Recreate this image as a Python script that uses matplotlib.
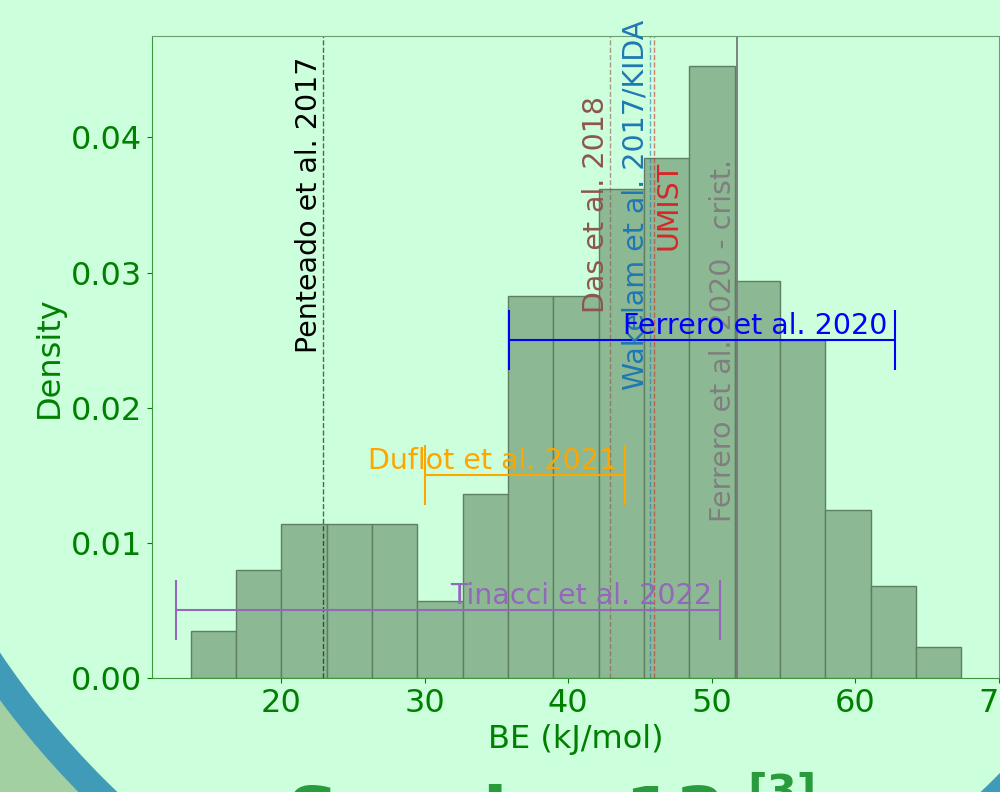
import numpy as np
import matplotlib.pyplot as plt
from matplotlib.patches import Annulus

# Histograma (densidade) das energias de ligação
bin_start = 13.70
bin_width = 3.159
density = [0.0035, 0.0080, 0.0114, 0.0114, 0.0114, 0.0057, 0.0136, 0.0283, 0.0283,
           0.0362, 0.0385, 0.0453, 0.0294, 0.0250, 0.0124, 0.0068, 0.0023]

# Valores de referência (linhas verticais)
ref_names = ['Penteado et al. 2017', 'Das et al. 2018', 'Wakelam et al. 2017/KIDA',
             'UMIST', 'Ferrero et al. 2020 - crist.']
ref_values = [22.9, 42.9, 45.7, 46.0, 51.8]
ref_colors = ['black', 'tab:brown', 'tab:blue', 'tab:red', 'tab:gray']

# Intervalos (barras de erro horizontais)
range_names = ['Ferrero et al. 2020', 'Duflot et al. 2021', 'Tinacci et al. 2022']
range_lo = [35.9, 30.0, 12.7]
range_hi = [62.8, 44.0, 50.6]
range_y = [0.025, 0.015, 0.005]
range_colors = ['blue', 'orange', 'tab:purple']

fundo = '#ccffdc'
verde = 'green'

fig = plt.figure(figsize=(10, 7.92), dpi=100, facecolor=fundo)

# Decoração do slide (arcos no canto inferior)
for cx in [6.97, 4.01]:
    fig.add_artist(Annulus((cx, 6.07), 30, 30 - 8.66, color='#a3d0a3',
                           transform=fig.dpi_scale_trans, zorder=-2))
    fig.add_artist(Annulus((cx, 6.07), 8.66, 0.26, color='#409bb9',
                           transform=fig.dpi_scale_trans, zorder=-1))

ax = fig.add_axes([0.152, 0.1439, 0.8465, 0.8106])
ax.set_facecolor(fundo)

edges = bin_start + bin_width * np.arange(len(density) + 1)
ax.bar(edges[:-1], density, width=bin_width, align='edge',
       color='#8cb993', edgecolor='#5e7f62', linewidth=1)

# Linhas verticais com os nomes
for nome, val, cor in zip(ref_names, ref_values, ref_colors):
    if 'crist' in nome:
        ax.axvline(val, color='#777777', lw=1.3, ls='-')
        ax.text(val, 0.025, nome, rotation=90, color=cor, fontsize=20.5,
                ha='right', va='center')
    elif nome == 'UMIST':
        ax.axvline(val, color=cor, lw=1, ls='--', alpha=0.6)
        ax.text(val, 0.035, nome, rotation=90, color=cor, fontsize=20.5,
                ha='left', va='center')
    else:
        ax.axvline(val, color=cor, lw=1, ls='--', alpha=0.6)
        ax.text(val, 0.035, nome, rotation=90, color=cor, fontsize=20.5,
                ha='right', va='center')

# Intervalos com barras de erro
for nome, lo, hi, y, cor in zip(range_names, range_lo, range_hi, range_y, range_colors):
    ax.errorbar((lo + hi) / 2, y, xerr=(hi - lo) / 2, color=cor, lw=1.5,
                capsize=21.5, capthick=1.5)
    ax.text(hi - 0.55, y + 0.00045, nome, color=cor, fontsize=20.5,
            ha='right', va='baseline')

ax.set_xlim(11, 70)
ax.set_ylim(0, 0.0475)
ax.set_xticks([20, 30, 40, 50, 60, 70])
ax.set_yticks([0, 0.01, 0.02, 0.03, 0.04])
ax.tick_params(colors=verde, labelsize=23)
ax.set_xlabel('BE (kJ/mol)', fontsize=23, color=verde)
ax.set_ylabel('Density', fontsize=23, color=verde)
for lado in ['left', 'bottom']:
    ax.spines[lado].set_color('#3c963c')
for lado in ['top', 'right']:
    ax.spines[lado].set_color('#6e9e6e')

# Título do slide (cortado na borda)
fig.text(0.287, -46 / 792, 'Species 13', fontsize=52, fontweight='bold',
         color='#2a9b3c', va='baseline')
fig.text(0.747, -13 / 792, '[3]', fontsize=31, fontweight='bold',
         color='#2a9b3c', va='baseline')

fig.savefig('out.png', dpi=100, facecolor=fundo)
